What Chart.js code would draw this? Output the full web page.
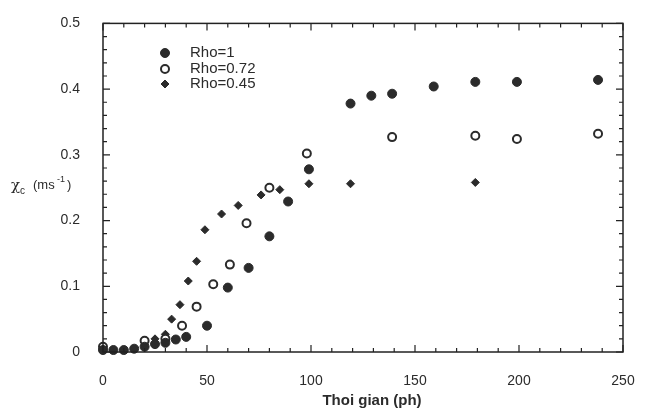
<!DOCTYPE html>
<html><head><meta charset="utf-8">
<script src="https://cdn.jsdelivr.net/npm/chart.js@4/dist/chart.umd.min.js"></script>
<style>html,body{margin:0;padding:0;background:#fff;}#wrap{width:650px;height:414px;}</style>
</head><body><div id="wrap"><canvas id="c" width="650" height="414"></canvas></div>
<script>
// Data
const rho1X = [0,5,10,15,20,25,30,35,40,50,60,70,80,89,99,119,129,139,159,179,199,238];
const rho1Y = [0.003,0.003,0.003,0.005,0.008,0.012,0.014,0.019,0.023,0.04,0.098,0.128,0.176,0.229,0.278,0.378,0.39,0.393,0.404,0.411,0.411,0.414];
const rho072X = [0,20,30,38,45,53,61,69,80,98,139,179,199,238];
const rho072Y = [0.008,0.017,0.02,0.04,0.069,0.103,0.133,0.196,0.25,0.302,0.327,0.329,0.324,0.332];
const rho045X = [0,25,30,33,37,41,45,49,57,65,76,85,99,119,179];
const rho045Y = [0.005,0.02,0.027,0.05,0.072,0.108,0.138,0.186,0.21,0.223,0.239,0.247,0.256,0.256,0.258];
const seriesNames = ['Rho=1','Rho=0.72','Rho=0.45'];
const xTicks = [0,50,100,150,200,250];
const yTicks = [0,0.1,0.2,0.3,0.4,0.5];
const xTitle = 'Thoi gian (ph)';

const INK = '#2b2b2b';
const toPts = (xs, ys) => xs.map((x, i) => ({x: x, y: ys[i]}));
const styles = [
  {pointStyle:'circle', pointRadius:4.5, backgroundColor:INK, borderColor:INK, borderWidth:1},
  {pointStyle:'circle', pointRadius:4, backgroundColor:'#fff', borderColor:INK, borderWidth:2},
  {pointStyle:'rectRot', pointRadius:4, backgroundColor:INK, borderColor:INK, borderWidth:1}
];

const framePlugin = {
  id: 'frame',
  afterDatasetsDraw(chart) {
    const {ctx, chartArea: a, scales: {x, y}} = chart;
    ctx.save();
    ctx.strokeStyle = '#222';
    ctx.lineWidth = 1.5;
    ctx.strokeRect(a.left, a.top, a.right - a.left, a.bottom - a.top);
    ctx.lineWidth = 1.2;
    ctx.beginPath();
    for (let v = 0; v <= 250.001; v += 10) {
      const px = x.getPixelForValue(v);
      const len = (Math.round(v) % 50 === 0) ? 7 : 4;
      ctx.moveTo(px, a.bottom); ctx.lineTo(px, a.bottom - len);
      ctx.moveTo(px, a.top); ctx.lineTo(px, a.top + len);
    }
    for (let k = 0; k <= 25; k++) {
      const py = y.getPixelForValue(k * 0.02);
      const len = (k % 5 === 0) ? 7 : 4;
      ctx.moveTo(a.left, py); ctx.lineTo(a.left + len, py);
      ctx.moveTo(a.right, py); ctx.lineTo(a.right - len, py);
    }
    ctx.stroke();
    ctx.restore();
  },
  afterDraw(chart) {
    const {ctx} = chart;
    ctx.save();
    ctx.fillStyle = INK;
    // x title
    ctx.font = 'bold 15px "Liberation Sans", Arial, sans-serif';
    ctx.textAlign = 'center';
    ctx.textBaseline = 'middle';
    ctx.fillText(xTitle, 372, 401);
    // y title: chi_c (ms^-1)
    ctx.textAlign = 'left';
    ctx.font = '15px "DejaVu Serif", serif';
    ctx.fillText('\u03c7', 11, 186);
    ctx.font = '10px "Liberation Sans", Arial, sans-serif';
    ctx.fillText('c', 20, 191);
    ctx.font = '13px "Liberation Sans", Arial, sans-serif';
    ctx.fillText('(ms', 33, 185);
    ctx.font = '9px "Liberation Sans", Arial, sans-serif';
    ctx.fillText('-1', 57, 180);
    ctx.font = '13px "Liberation Sans", Arial, sans-serif';
    ctx.fillText(')', 67, 185);
    // legend
    const rows = [53, 69, 84];
    ctx.font = '15px "Liberation Sans", Arial, sans-serif';
    rows.forEach((ry, i) => {
      const s = styles[i];
      ctx.fillStyle = s.backgroundColor; ctx.strokeStyle = s.borderColor; ctx.lineWidth = s.borderWidth;
      ctx.beginPath();
      if (s.pointStyle === 'circle') { ctx.arc(165, ry, s.pointRadius, 0, Math.PI * 2); }
      else { const r = s.pointRadius; ctx.moveTo(165, ry - r); ctx.lineTo(165 + r, ry); ctx.lineTo(165, ry + r); ctx.lineTo(165 - r, ry); ctx.closePath(); }
      ctx.fill(); ctx.stroke();
      ctx.fillStyle = INK;
      ctx.fillText(seriesNames[i], 190, ry);
    });
    ctx.restore();
  }
};

new Chart(document.getElementById('c'), {
  type: 'scatter',
  data: {
    datasets: [
      Object.assign({label: seriesNames[0], data: toPts(rho1X, rho1Y), clip: false}, styles[0]),
      Object.assign({label: seriesNames[1], data: toPts(rho072X, rho072Y), clip: false}, styles[1]),
      Object.assign({label: seriesNames[2], data: toPts(rho045X, rho045Y), clip: false}, styles[2])
    ]
  },
  options: {
    responsive: false,
    animation: false,
    layout: {padding: {top: 10, right: 27, left: 0, bottom: 0}},
    plugins: {legend: {display: false}, tooltip: {enabled: false}},
    scales: {
      x: {
        type: 'linear', min: 0, max: 250,
        afterBuildTicks: s => { s.ticks = xTicks.map(v => ({value: v})); },
        afterFit: s => { s.height = 62; },
        grid: {display: false},
        border: {display: false},
        ticks: {color: INK, padding: 13, maxRotation: 0, font: {family: '"Liberation Sans", Arial, sans-serif', size: 14}}
      },
      y: {
        type: 'linear', min: 0, max: 0.5,
        afterBuildTicks: s => { s.ticks = yTicks.map(v => ({value: v})); },
        afterFit: s => { s.width = 103; },
        grid: {display: false},
        border: {display: false},
        ticks: {color: INK, padding: 15, font: {family: '"Liberation Sans", Arial, sans-serif', size: 14},
          callback: v => v === 0 ? '0' : Number(v).toFixed(1)}
      }
    }
  },
  plugins: [framePlugin]
});
</script></body></html>
